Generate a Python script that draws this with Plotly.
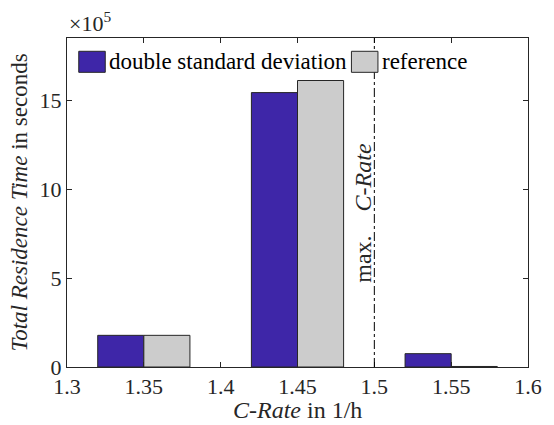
import plotly.graph_objects as go

# Data (residence time in seconds)
c_rates = [1.35, 1.45, 1.55]
double_std = [1.78e5, 15.43e5, 0.75e5]
reference = [1.78e5, 16.11e5, 0.03e5]
max_c_rate = 1.5
x_ticks = [1.3, 1.35, 1.4, 1.45, 1.5, 1.55, 1.6]
x_ticklabels = ["1.3", "1.35", "1.4", "1.45", "1.5", "1.55", "1.6"]
y_ticks = [0, 5e5, 10e5, 15e5]
y_ticklabels = ["0", "5", "10", "15"]

FONT = "Liberation Serif, Times New Roman, Times, serif"
BLUE = "#3E26A8"
GRAY = "#CCCCCC"
EDGE = "#262626"
TXT = "#262626"

fig = go.Figure()
fig.add_trace(go.Bar(x=c_rates, y=double_std, width=0.03, offset=-0.03,
                     marker=dict(color=BLUE, line=dict(color=EDGE, width=1)),
                     name="double standard deviation", showlegend=False))
fig.add_trace(go.Bar(x=c_rates, y=reference, width=0.03, offset=0,
                     marker=dict(color=GRAY, line=dict(color=EDGE, width=1)),
                     name="reference", showlegend=False))

fig.add_vline(x=max_c_rate, line=dict(color="black", width=1, dash="dashdot"))

shapes = []
annotations = []

# x10^5 exponent label
annotations.append(dict(xref="paper", yref="paper", x=0.0, y=1.0, xanchor="left", yanchor="bottom",
                        text="×10<sup>5</sup>", showarrow=False, yshift=0,
                        font=dict(family=FONT, size=22, color=TXT)))
# max C-Rate label
annotations.append(dict(xref="x", yref="y", x=max_c_rate, y=8.69e5, xshift=-11,
                        text="max.&nbsp;&nbsp;&nbsp;&nbsp;<i>C</i>-<i>Rate</i>", textangle=-90, showarrow=False,
                        font=dict(family=FONT, size=24, color=TXT)))
# axis titles
annotations.append(dict(xref="paper", yref="paper", x=-0.102, y=0.5, xanchor="center", yanchor="middle",
                        text="<i>Total Residence Time</i> in seconds", textangle=-90, showarrow=False,
                        font=dict(family=FONT, size=23, color=TXT)))
annotations.append(dict(xref="paper", yref="paper", x=0.5, y=-0.132, xanchor="center", yanchor="middle",
                        text="<i>C</i>-<i>Rate</i> in 1/h", showarrow=False,
                        font=dict(family=FONT, size=24, color=TXT)))

# custom legend
shapes.append(dict(type="rect", xref="paper", yref="paper", x0=0.019, x1=0.874, y0=0.880, y1=0.975,
                   fillcolor="white", line=dict(color="#8C8C8C", width=1.5), layer="above"))
shapes.append(dict(type="rect", xref="paper", yref="paper", x0=0.0255, x1=0.083, y0=0.8957, y1=0.9596,
                   fillcolor=BLUE, line=dict(color=EDGE, width=1), layer="above"))
shapes.append(dict(type="rect", xref="paper", yref="paper", x0=0.617, x1=0.6745, y0=0.8957, y1=0.9596,
                   fillcolor=GRAY, line=dict(color=EDGE, width=1), layer="above"))
annotations.append(dict(xref="paper", yref="paper", x=0.0872, y=0.928, xanchor="left", yanchor="middle",
                        text="double standard deviation", showarrow=False,
                        font=dict(family=FONT, size=23, color="black")))
annotations.append(dict(xref="paper", yref="paper", x=0.6787, y=0.928, xanchor="left", yanchor="middle",
                        text="reference", showarrow=False,
                        font=dict(family=FONT, size=23, color="black")))

fig.update_layout(
    width=554, height=425,
    margin=dict(l=67, r=17, t=38, b=58),
    paper_bgcolor="white", plot_bgcolor="white",
    barmode="overlay", hovermode=False,
    shapes=shapes, annotations=annotations,
    font=dict(family=FONT, size=22, color=TXT),
)
fig.update_xaxes(range=[1.3, 1.6], tickvals=x_ticks, ticktext=x_ticklabels,
                 ticks="inside", ticklen=5, tickcolor=EDGE, showline=True, linecolor=EDGE,
                 linewidth=1, mirror="ticks", showgrid=False, zeroline=False,
                 tickfont=dict(family=FONT, size=22, color=TXT))
fig.update_yaxes(range=[0, 18.5e5], tickvals=y_ticks, ticktext=y_ticklabels,
                 ticks="inside", ticklen=5, tickcolor=EDGE, showline=True, linecolor=EDGE,
                 linewidth=1, mirror="ticks", showgrid=False, zeroline=False,
                 tickfont=dict(family=FONT, size=22, color=TXT))

fig.write_html("out.html",
               config={"displayModeBar": False},
               post_script="document.body.style.margin='0';document.body.style.overflow='hidden';")
